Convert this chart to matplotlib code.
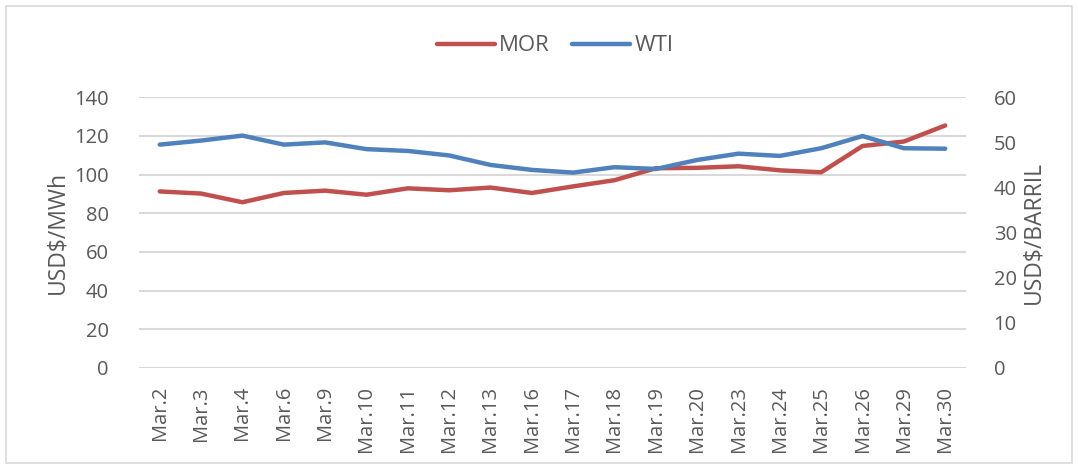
import matplotlib.pyplot as plt
from matplotlib.patches import Rectangle

# daily prices, March
dates = ['Mar.2', 'Mar.3', 'Mar.4', 'Mar.6', 'Mar.9', 'Mar.10', 'Mar.11', 'Mar.12',
         'Mar.13', 'Mar.16', 'Mar.17', 'Mar.18', 'Mar.19', 'Mar.20', 'Mar.23',
         'Mar.24', 'Mar.25', 'Mar.26', 'Mar.29', 'Mar.30']
mor = [91.3, 90.2, 85.7, 90.5, 91.7, 89.6, 92.9, 91.9, 93.3, 90.5,
       93.9, 97.1, 103.3, 103.5, 104.3, 102.2, 101.2, 114.8, 117.1, 125.4]
wti = [49.5, 50.4, 51.5, 49.5, 50.0, 48.5, 48.1, 47.1, 45.0, 43.9,
       43.3, 44.5, 44.1, 46.1, 47.5, 47.0, 48.7, 51.4, 48.7, 48.6]

plt.rcParams['font.family'] = ['Open Sans', 'DejaVu Sans']
text_col = '#595959'
grid_col = '#d9d9d9'

fig = plt.figure(figsize=(10.78, 4.68), dpi=100)
ax = fig.add_axes([0.129, 0.2137, 0.767, 0.5785])
ax2 = ax.twinx()

x = range(len(dates))
l1, = ax.plot(x, mor, color='#C0504D', lw=3.2, solid_capstyle='round', label='MOR')
l2, = ax2.plot(x, wti, color='#4F81BD', lw=3.2, solid_capstyle='round', label='WTI')

ax.set_ylim(0, 140)
ax.set_yticks(range(0, 141, 20))
ax2.set_ylim(0, 60)
ax2.set_yticks(range(0, 61, 10))
ax.set_xlim(-0.5, len(dates) - 0.5)
ax.set_xticks(list(x))
ax.set_xticklabels(dates, rotation=90)

ax.grid(axis='y', color=grid_col, lw=1.5)
ax.set_axisbelow(True)
for a in (ax, ax2):
    for s in a.spines.values():
        s.set_visible(False)
    a.tick_params(length=0, labelsize=14.5, colors=text_col)
ax.tick_params(axis='y', pad=22)
ax2.tick_params(axis='y', pad=20)
ax.tick_params(axis='x', pad=13)

ax.set_ylabel('USD$/MWh', fontsize=16.5, color=text_col, labelpad=3)
ax2.set_ylabel('USD$/BARRIL', fontsize=16.5, color=text_col, labelpad=3)

fig.legend(handles=[l1, l2], loc='center', bbox_to_anchor=(0.515, 0.902), ncol=2,
           frameon=False, fontsize=16, labelcolor=text_col, handlelength=2.6,
           handletextpad=0.2, columnspacing=1.0)

fig.patches.append(Rectangle((0.006, 0.01), 0.988, 0.978, transform=fig.transFigure,
                             fill=False, edgecolor=grid_col, lw=1.2))

fig.savefig('out.png', dpi=100)
